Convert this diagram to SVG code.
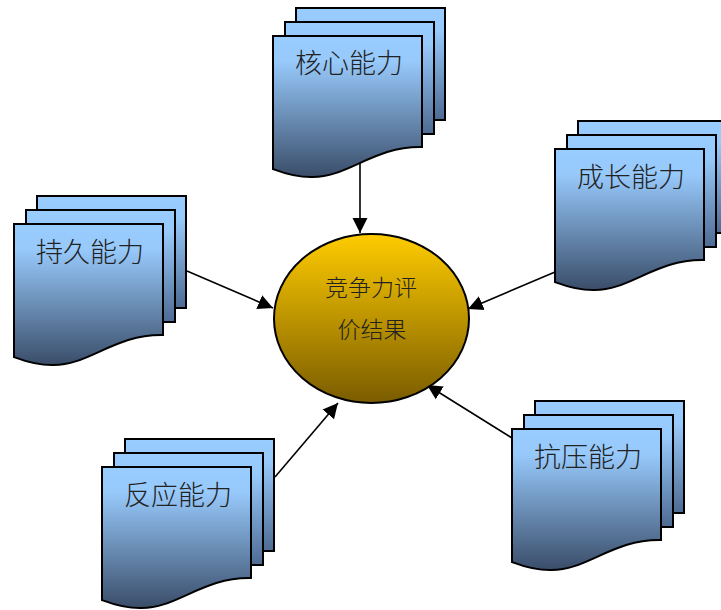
<svg xmlns="http://www.w3.org/2000/svg" width="721" height="610" viewBox="0 0 721 610">
<defs>
<linearGradient id="gDoc" x1="0" y1="0" x2="0" y2="1">
<stop offset="0" stop-color="#99CCFF"/>
<stop offset="0.18" stop-color="#97C9FB"/>
<stop offset="1" stop-color="#3A4D69"/>
</linearGradient>
<linearGradient id="gBack" x1="0" y1="0" x2="0" y2="1">
<stop offset="0" stop-color="#99CCFF"/>
<stop offset="0.2" stop-color="#97C9FB"/>
<stop offset="1" stop-color="#4E6B93"/>
</linearGradient>
<linearGradient id="gEll" x1="0" y1="0" x2="0" y2="1">
<stop offset="0" stop-color="#FFCC00"/>
<stop offset="1" stop-color="#7A5C00"/>
</linearGradient>
<marker id="arr" markerUnits="userSpaceOnUse" markerWidth="16" markerHeight="16" refX="15" refY="8" orient="auto">
<path d="M0,0.5 L15,8 L0,15.5 Z" fill="#000"/>
</marker>
<g id="doc">
<rect x="23" y="-28" width="149" height="112" fill="url(#gBack)" stroke="#000" stroke-width="2"/>
<rect x="12" y="-14" width="149" height="112" fill="url(#gBack)" stroke="#000" stroke-width="2"/>
<path d="M0,0 H149 V111 C100,110 75,142 38,141 C20,141 8,136 0,133 Z" fill="url(#gDoc)" stroke="#000" stroke-width="2"/>
</g>
</defs>
<style>
.lbl{font-family:"Noto Sans CJK SC","Noto Sans CJK JP",sans-serif;font-size:27px;font-weight:300;fill:#222;text-anchor:middle}
.ctr{font-family:"Noto Sans CJK SC","Noto Sans CJK JP",sans-serif;font-size:23px;font-weight:300;fill:#222;text-anchor:middle}
.con{stroke:#000;stroke-width:1.6;fill:none;marker-end:url(#arr)}
</style>
<g id="connectors">
<line class="con" x1="360" y1="160" x2="360" y2="233"/>
<line class="con" x1="187" y1="271" x2="273" y2="308"/>
<line class="con" x1="555" y1="272" x2="468" y2="309"/>
<line class="con" x1="275" y1="477" x2="338" y2="403"/>
<line class="con" x1="512" y1="438" x2="427" y2="385"/>
</g>
<g id="node-center">
<ellipse cx="371.5" cy="318.5" rx="97.5" ry="84.5" fill="url(#gEll)" stroke="#000" stroke-width="2"/>
<text class="ctr" x="371" y="296">竞争力评</text>
<text class="ctr" x="372" y="338">价结果</text>
</g>
<g id="node-hexin" transform="translate(273,36)">
<use href="#doc"/>
<text class="lbl" x="76" y="37">核心能力</text>
</g>
<g id="node-chijiu" transform="translate(14,224)">
<use href="#doc"/>
<text class="lbl" x="76" y="38">持久能力</text>
</g>
<g id="node-chengzhang" transform="translate(555,149)">
<use href="#doc"/>
<text class="lbl" x="76" y="38">成长能力</text>
</g>
<g id="node-fanying" transform="translate(102,467)">
<use href="#doc"/>
<text class="lbl" x="76" y="38">反应能力</text>
</g>
<g id="node-kangya" transform="translate(512,429)">
<use href="#doc"/>
<text class="lbl" x="76" y="38">抗压能力</text>
</g>
</svg>
